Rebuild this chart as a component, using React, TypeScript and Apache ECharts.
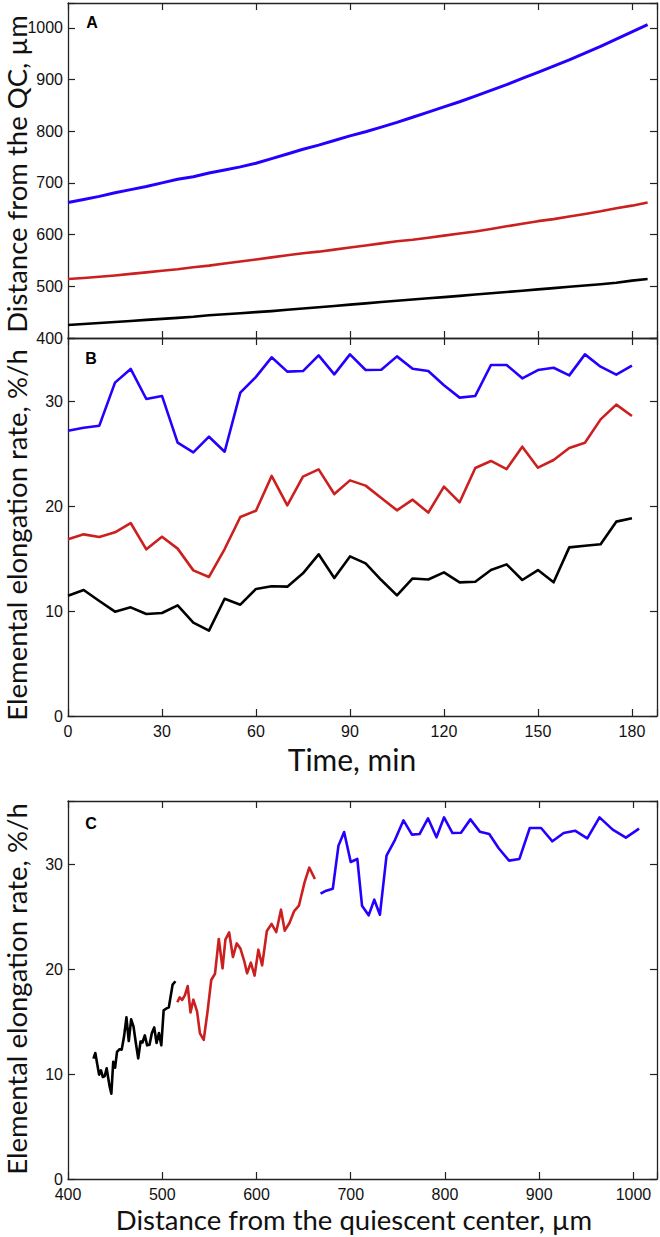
import React, { useEffect, useRef } from "react";
import * as echarts from "echarts";

// Panel A: distance from QC (µm) at time points (min)
const timeA = [0,5,10,15,20,25,30,35,40,45,50,55,60,65,70,75,80,85,90,95,100,105,110,115,120,125,130,135,140,145,150,155,160,165,170,175,180,185];
const distBlack = [425,427,429,431,433,435,437,439,441,444,446,448,450,452,454.5,457,459.5,462,464.5,467,469.5,472,474.5,477,479,481.5,484,486.5,489,491.5,494,496.5,499,501.5,504,507,511,514];
const distRed = [514,516,518.5,521,524,527,530,533,537,540,544,548,552,556,560,564,567,571,575,579,583,587,590,594,598,602,606,611,616,621,626,630,635,640,645,651,656,662];
const distBlue = [662,668,674,681,687,693,700,707,712,719,725,731,738,747,756,765,773,782,791,799,808,817,827,837,847,857,868,879,890,902,914,926,938,951,964,978,992,1006];

// Panel B: elemental elongation rate (%/h)
const timeB = [0,5,10,15,20,25,30,35,40,45,50,55,60,65,70,75,80,85,90,95,100,105,110,115,120,125,130,135,140,145,150,155,160,165,170,175,180];
const rateBlack = [11.46,12.0,10.95,9.94,10.35,9.71,9.81,10.54,8.89,8.13,11.17,10.6,12.1,12.35,12.32,13.59,15.4,13.14,15.2,14.54,12.95,11.49,13.1,13.0,13.68,12.73,12.79,13.9,14.44,12.95,13.9,12.73,16.06,16.22,16.35,18.51,18.83];
const rateRed = [16.83,17.3,17.05,17.49,18.38,15.87,17.08,15.94,13.87,13.24,15.9,18.95,19.55,22.86,20.06,22.8,23.49,21.14,22.44,21.94,20.76,19.59,20.6,19.37,21.84,20.35,23.62,24.29,23.52,25.65,23.65,24.38,25.52,26.03,28.25,29.65,28.57];
const rateBlue = [27.17,27.46,27.65,31.75,33.05,30.19,30.48,26.03,25.11,26.6,25.17,30.8,32.3,34.16,32.8,32.85,34.35,32.54,34.44,32.95,32.98,34.25,33.08,32.85,31.5,30.32,30.48,33.43,33.43,32.16,32.95,33.17,32.44,34.44,33.27,32.51,33.37];

const timeTicks = [0, 30, 60, 90, 120, 150, 180];
const distTicks = [400, 500, 600, 700, 800, 900, 1000];
const rateTicks = [0, 10, 20, 30];

const BLACK = "#000000";
const RED = "#cc1f1f";
const BLUE = "#2400ff";
const AXIS = "#222222";

const TICK_FONT = "'Liberation Sans Narrow', 'Arial Narrow', 'Liberation Sans', Arial, sans-serif";
const TITLE_FONT = "Lato, 'Noto Sans', sans-serif";

const pair = (xs: number[], ys: number[]) => ys.map((y, i) => [xs[i], y]);
// rate at time t plotted against the distance reached at the following time point
const pairC = (dist: number[], rate: number[]) => rate.map((r, i) => [dist[i + 1], r]);

export default function App() {
  const ref = useRef<HTMLDivElement>(null);
  useEffect(() => {
    document.body.style.margin = "0";
    if (!ref.current) return;
    const chart = echarts.init(ref.current, undefined, { renderer: "svg" });

    const gridDefs = [
      { left: 68, top: 3, width: 589, height: 335 },
      { left: 68, top: 338, width: 589, height: 378 },
      { left: 68, top: 801, width: 589, height: 378 },
    ];

    const fmt = (ticks: number[]) => (v: number) => (ticks.includes(v) ? String(v) : "");

    const mkAxis = (gridIndex: number, position: string, min: number, max: number, interval: number, ticks: number[], showLabel: boolean, margin: number) => ({
      type: "value",
      gridIndex,
      position,
      min,
      max,
      interval,
      axisLine: { show: true, onZero: false, lineStyle: { color: AXIS, width: 1.3 } },
      axisTick: { show: true, inside: true, length: 7, lineStyle: { color: AXIS, width: 1.2 } },
      axisLabel: {
        show: showLabel,
        formatter: fmt(ticks),
        margin,
        fontSize: 16,
        fontFamily: TICK_FONT,
        color: "#111",
      },
      splitLine: { show: false },
    });

    const line = (name: string, data: number[][], color: string, xi: number, yi: number, width = 2.6) => ({
      type: "line",
      name,
      data,
      xAxisIndex: xi,
      yAxisIndex: yi,
      showSymbol: false,
      symbol: "none",
      lineStyle: { color, width, join: "round" },
      itemStyle: { color },
      silent: true,
    });

    const titleStyle = (text: string, size: number) => ({
      text,
      fontSize: size,
      fontFamily: TITLE_FONT,
      fill: "#111",
      textAlign: "center",
      textVerticalAlign: "middle",
    });
    const letterStyle = (text: string) => ({
      text,
      fontSize: 16,
      fontWeight: "bold",
      fontFamily: "'Liberation Sans', Arial, sans-serif",
      fill: "#000",
      textAlign: "center",
      textVerticalAlign: "middle",
    });

    chart.setOption({
      animation: false,
      backgroundColor: "#ffffff",
      grid: gridDefs,
      xAxis: [
        mkAxis(0, "bottom", 0, 188, 30, timeTicks, false, 7),
        mkAxis(0, "top", 0, 188, 30, timeTicks, false, 7),
        mkAxis(1, "bottom", 0, 188, 30, timeTicks, true, 7),
        mkAxis(1, "top", 0, 188, 30, timeTicks, false, 7),
        mkAxis(2, "bottom", 400, 1025, 100, distTicks, true, 7),
        mkAxis(2, "top", 400, 1025, 100, distTicks, false, 7),
      ],
      yAxis: [
        mkAxis(0, "left", 400, 1048, 100, distTicks, true, 5),
        mkAxis(0, "right", 400, 1048, 100, distTicks, false, 5),
        mkAxis(1, "left", 0, 36, 10, rateTicks, true, 5),
        mkAxis(1, "right", 0, 36, 10, rateTicks, false, 5),
        mkAxis(2, "left", 0, 36, 10, rateTicks, true, 5),
        mkAxis(2, "right", 0, 36, 10, rateTicks, false, 5),
      ],
      series: [
        line("A black", pair(timeA, distBlack), BLACK, 0, 0),
        line("A red", pair(timeA, distRed), RED, 0, 0),
        line("A blue", pair(timeA, distBlue), BLUE, 0, 0, 3),
        line("B black", pair(timeB, rateBlack), BLACK, 2, 2),
        line("B red", pair(timeB, rateRed), RED, 2, 2),
        line("B blue", pair(timeB, rateBlue), BLUE, 2, 2),
        line("C black", pairC(distBlack, rateBlack), BLACK, 4, 4),
        line("C red", pairC(distRed, rateRed), RED, 4, 4),
        line("C blue", pairC(distBlue, rateBlue), BLUE, 4, 4),
      ],
      graphic: [
        { type: "text", x: 16, y: 174, rotation: Math.PI / 2, style: titleStyle("Distance from the QC, µm", 27.5) },
        { type: "text", x: 16, y: 535, rotation: Math.PI / 2, style: titleStyle("Elemental elongation rate, %/h", 27.5) },
        { type: "text", x: 16, y: 989, rotation: Math.PI / 2, style: titleStyle("Elemental elongation rate, %/h", 27.5) },
        { type: "text", x: 352, y: 759, style: titleStyle("Time, min", 30) },
        { type: "text", x: 354, y: 1219, style: titleStyle("Distance from the quiescent center, µm", 27.5) },
        { type: "text", x: 92, y: 22, style: letterStyle("A") },
        { type: "text", x: 91, y: 358, style: letterStyle("B") },
        { type: "text", x: 91, y: 823, style: letterStyle("C") },
      ],
    });
    return () => chart.dispose();
  }, []);
  return <div ref={ref} style={{ position: "absolute", left: 0, top: 0, width: 660, height: 1237 }} />;
}
